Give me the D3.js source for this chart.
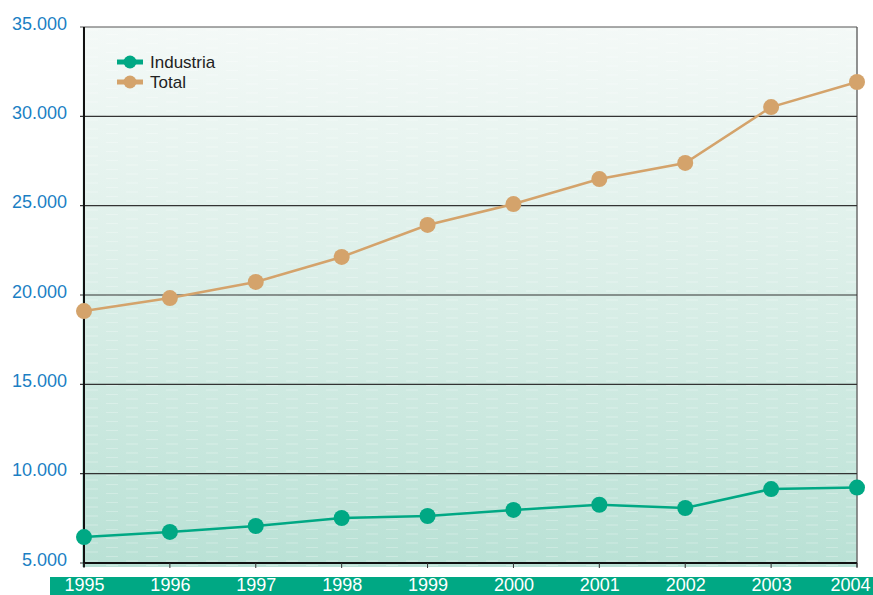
<!DOCTYPE html>
<html>
<head>
<meta charset="utf-8">
<script src="https://cdn.jsdelivr.net/npm/d3@7"></script>
<style>
  body { margin: 0; background: #fff; }
  svg { display: block; font-family: "Liberation Sans", Arial, sans-serif; }
</style>
</head>
<body>
<div id="graph-section"></div>
<script>
// values
var years = ["1995", "1996", "1997", "1998", "1999", "2000", "2001", "2002", "2003", "2004"];
var industria = [6450, 6740, 7070, 7520, 7630, 7970, 8260, 8080, 9140, 9220];
var total = [19100, 19830, 20730, 22130, 23920, 25090, 26490, 27390, 30520, 31920];
var yTicks = [5000, 10000, 15000, 20000, 25000, 30000, 35000];
var seriesNames = ["Industria", "Total"];

var fullWidth = 873, fullHeight = 595;
var margin = {top: 27, right: 16, bottom: 32, left: 84};
var width = fullWidth - margin.left - margin.right;
var height = fullHeight - margin.top - margin.bottom;

var green = "#00a884";
var tan = "#d4a36b";

var locale = d3.formatLocale({decimal: ",", thousands: ".", grouping: [3], currency: ["", ""]});
var fmt = locale.format(",d");

var svg = d3.select("div#graph-section").append("svg")
    .attr("width", fullWidth)
    .attr("height", fullHeight);

var defs = svg.append("defs");
var grad = defs.append("linearGradient")
    .attr("id", "bg").attr("x1", 0).attr("y1", 0).attr("x2", 0).attr("y2", 1);
grad.append("stop").attr("offset", "0%").attr("stop-color", "#f4f9f7");
grad.append("stop").attr("offset", "50%").attr("stop-color", "#d9eee7");
grad.append("stop").attr("offset", "100%").attr("stop-color", "#b9e1d5");

// faint dashed texture
var pat = defs.append("pattern")
    .attr("id", "dash").attr("patternUnits", "userSpaceOnUse")
    .attr("width", 40).attr("height", 9);
pat.append("line").attr("x1", 2).attr("x2", 14).attr("y1", 3).attr("y2", 3)
    .attr("stroke", "#fff").attr("stroke-opacity", 0.3).attr("stroke-width", 1);
pat.append("line").attr("x1", 22).attr("x2", 34).attr("y1", 7.5).attr("y2", 7.5)
    .attr("stroke", "#fff").attr("stroke-opacity", 0.25).attr("stroke-width", 1);

// green band for the years (drawn first so the labels sit on top)
svg.append("rect")
    .attr("x", 50).attr("y", 577)
    .attr("width", fullWidth - 50).attr("height", 18)
    .attr("fill", green);

var g = svg.append("g")
    .attr("transform", "translate(" + margin.left + "," + margin.top + ")");

var xScale = d3.scalePoint()
    .domain(years)
    .range([0, width]);

var yScale = d3.scaleLinear()
    .domain([5000, 35000])
    .range([height, 0]);

// plot background
g.append("rect")
    .attr("x", -2).attr("y", 0)
    .attr("width", width + 2).attr("height", height + 4)
    .attr("fill", "url(#bg)");
g.append("rect")
    .attr("x", -2).attr("y", 0)
    .attr("width", width + 2).attr("height", height + 4)
    .attr("fill", "url(#dash)");

// right border
g.append("line")
    .attr("x1", width).attr("x2", width)
    .attr("y1", 0).attr("y2", height + 4)
    .attr("stroke", "#6d6d6d").attr("stroke-width", 1.5);

// gridlines
g.append("g").selectAll("line.grid")
    .data(yTicks)
  .enter().append("line")
    .attr("x1", -4).attr("x2", width)
    .attr("y1", function(d) { return yScale(d); })
    .attr("y2", function(d) { return yScale(d); })
    .attr("stroke", function(d) { return d == 35000 ? "#555" : "#333"; })
    .attr("stroke-width", 1.2);

// y axis
var yAxis = d3.axisLeft(yScale).tickValues(yTicks).tickFormat(fmt).tickSize(0).tickPadding(17);
var yAxisEle = g.append("g").call(yAxis);
yAxisEle.select(".domain").remove();
yAxisEle.selectAll("text")
    .attr("dy", "0.12em")
    .style("font-size", "18px")
    .style("fill", "#1b7fc4")
    .style("font-family", "'Liberation Sans', Arial, sans-serif");

g.append("line")
    .attr("x1", 0).attr("x2", 0).attr("y1", 0).attr("y2", height + 4)
    .attr("stroke", "#111").attr("stroke-width", 2);
g.append("line")
    .attr("x1", 0).attr("x2", width).attr("y1", height).attr("y2", height)
    .attr("stroke", "#111").attr("stroke-width", 2);

// x ticks
g.append("g").selectAll("line.xt")
    .data(years)
  .enter().append("line")
    .attr("x1", function(d) { return xScale(d); })
    .attr("x2", function(d) { return xScale(d); })
    .attr("y1", height).attr("y2", height + 5)
    .attr("stroke", "#333").attr("stroke-width", 1);

var xAxis = d3.axisBottom(xScale).tickSize(0).tickPadding(0);
var xAxisEle = g.append("g")
    .attr("transform", "translate(0," + (577 - margin.top) + ")")
    .call(xAxis);
xAxisEle.select(".domain").remove();
xAxisEle.selectAll("text")
    .attr("dy", "0.76em")
    .style("font-size", "18px")
    .style("fill", "#fff")
    .style("font-family", "'Liberation Sans', Arial, sans-serif");
// keep the last year inside the page
xAxisEle.selectAll(".tick").filter(function(d) { return d == years[years.length - 1]; })
    .select("text").attr("text-anchor", "end").attr("x", 13);

// lines
var line = d3.line()
    .x(function(d) { return xScale(d.year); })
    .y(function(d) { return yScale(d.value); });

function drawSeries(values, color) {
    var data = years.map(function(y, i) { return {year: y, value: values[i]}; });
    g.append("path")
        .datum(data)
        .attr("d", line)
        .attr("fill", "none")
        .attr("stroke", color)
        .attr("stroke-width", 2.5);
    g.append("g").selectAll("circle")
        .data(data)
      .enter().append("circle")
        .attr("cx", function(d) { return xScale(d.year); })
        .attr("cy", function(d) { return yScale(d.value); })
        .attr("r", 8)
        .attr("fill", color);
}
drawSeries(total, tan);
drawSeries(industria, green);

// legend
var legend = svg.append("g").attr("transform", "translate(117,62)");
var colors = [green, tan];
seriesNames.forEach(function(name, i) {
    var lg = legend.append("g").attr("transform", "translate(0," + (i * 20) + ")");
    lg.append("line").attr("x1", 0).attr("x2", 26).attr("y1", 0).attr("y2", 0)
        .attr("stroke", colors[i]).attr("stroke-width", 5);
    lg.append("circle").attr("cx", 13).attr("cy", 0).attr("r", 6.5).attr("fill", colors[i]);
    lg.append("text").attr("x", 33).attr("y", 0).attr("dy", "0.36em")
        .style("font-size", "17px").style("fill", "#222")
        .text(name);
});
</script>
</body>
</html>
